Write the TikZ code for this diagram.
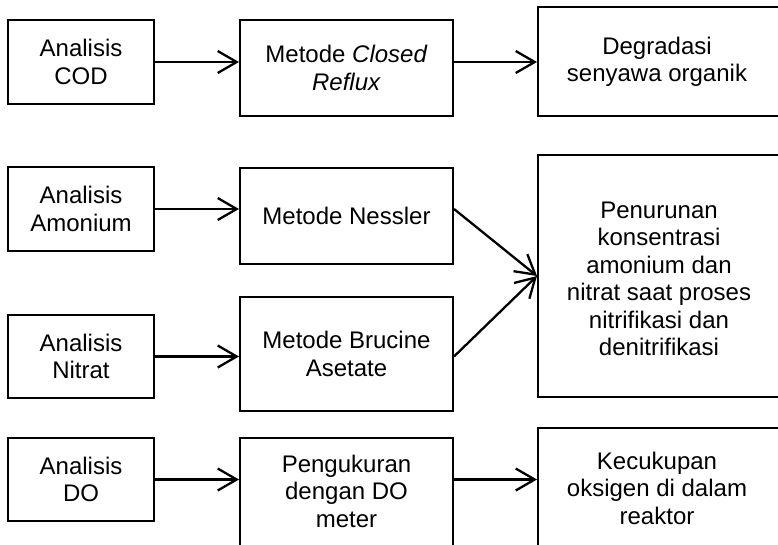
\documentclass[tikz,border=0pt]{standalone}
\usepackage{fontspec}
\setmainfont{Liberation Sans}
\usetikzlibrary{arrows.meta}
\tikzset{
  box/.style={draw=black, line width=2pt, rectangle, inner sep=0pt, align=center},
  lbl/.style={inner sep=0pt, align=center},
  link/.style={line width=2.3pt, -{Straight Barb[length=19pt, width=22pt]}},
}
\begin{document}
\begin{tikzpicture}[x=1pt, y=-1pt,
  every node/.style={font=\fontsize{24}{27.5}\selectfont}]
\useasboundingbox (0,0) rectangle (778,544);
\clip (0,0) rectangle (778,544);

% first column: analyses
\node[box, minimum width=146pt, minimum height=84pt] (cod) at (81,62) {Analisis\\COD};
\node[box, minimum width=146pt, minimum height=84pt] (amon) at (81,209) {Analisis\\Amonium};
\node[box, minimum width=146pt, minimum height=83pt] (nitrat) at (81,356.5) {Analisis\\Nitrat};
\node[box, minimum width=146pt, minimum height=83pt] (do) at (81,479.5) {Analisis\\DO};

% second column: methods
\node[box, minimum width=213pt, minimum height=96pt] (reflux) at (346.5,68) {Metode \textit{Closed}\\\textit{Reflux}};
\node[box, minimum width=213pt, minimum height=96pt] (nessler) at (346.5,216) {Metode Nessler};
\node[box, minimum width=213pt, minimum height=114pt] (brucine) at (346.5,354) {Metode Brucine\\Asetate};
\node[box, minimum width=213pt, minimum height=122pt] (ukur) at (346.5,499) {};
\node[lbl] (ukurT) at (346.5,491) {Pengukuran\\dengan DO\\meter};

% third column: outcomes
\node[box, minimum width=252pt, minimum height=109pt] (deg) at (664,61.5) {};
\node[lbl] (degT) at (657,62) {Degradasi\\senyawa organik};
\node[box, minimum width=252pt, minimum height=242pt] (big) at (664,276) {};
\node[lbl] (bigT) at (659,279) {Penurunan\\konsentrasi\\amonium dan\\nitrat saat proses\\nitrifikasi dan\\denitrifikasi};
\node[box, minimum width=252pt, minimum height=132pt] (cukup) at (664,494) {};
\node[lbl] (cukupT) at (657,488) {Kecukupan\\oksigen di dalam\\reaktor};

% connectors
\draw[link] (cod.east) -- (cod.east -| reflux.west);
\draw[link] (reflux.east |- cod.east) -- (cod.east -| deg.west);
\draw[link] (amon.east) -- (amon.east -| nessler.west);
\draw[link] (nitrat.east) -- (nitrat.east -| brucine.west);
\draw[link] (nessler.east |- amon.east) -- (big.west);
\draw[link] (brucine.east |- nitrat.east) -- (big.west);
\draw[link] (do.east) -- (do.east -| ukur.west);
\draw[link] (ukur.east |- do.east) -- (do.east -| cukup.west);
\end{tikzpicture}
\end{document}
